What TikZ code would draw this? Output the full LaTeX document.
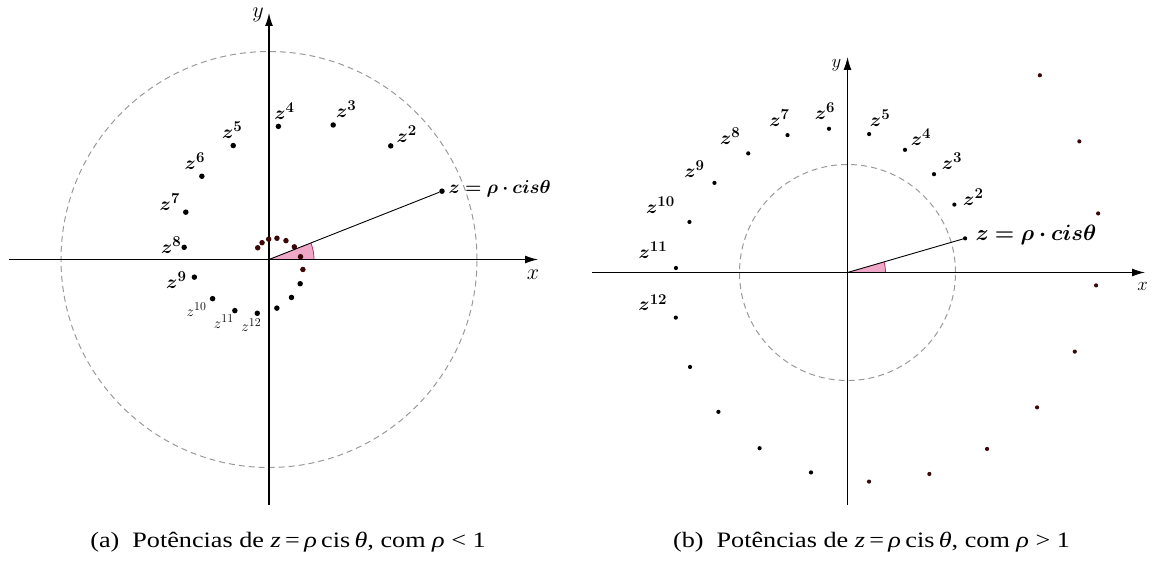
\RequirePackage{fix-cm}
\documentclass[tikz,border=0pt]{standalone}
\usepackage{amsmath,bm}
\usepackage[no-math]{fontspec}
\setmainfont{Liberation Serif}
\usetikzlibrary{arrows.meta}
\DeclareMathSizes{19}{19}{15}{11}
\DeclareMathSizes{15}{15}{12}{9}
\definecolor{sectorpink}{HTML}{EFA8C8}
\definecolor{sectoredge}{HTML}{C8246E}
\definecolor{darkdot}{HTML}{3A0808}
\definecolor{guidegray}{HTML}{9A9A9A}
\begin{document}
\begin{tikzpicture}[x=1pt,y=-1pt,
  axisline/.style={line width=1.2pt,-{Latex[length=13pt,width=8pt]}},
  guide/.style={guidegray,line width=1pt,dash pattern=on 6pt off 4pt},
  zline/.style={line width=0.9pt},
  dotL/.style={circle,inner sep=0pt,minimum size=5.5pt},
  dotR/.style={circle,inner sep=0pt,minimum size=4.2pt},
  lblA/.style={inner sep=0pt,font=\fontsize{19}{21}\selectfont},
  lblS/.style={inner sep=0pt,font=\fontsize{15}{17}\selectfont},
  mainL/.style={inner sep=0pt,anchor=west,font=\fontsize{18.75}{21}\selectfont},
  mainR/.style={inner sep=0pt,anchor=west,font=\fontsize{22.2}{25}\selectfont},
  axlblL/.style={inner sep=0pt,font=\fontsize{22.2}{25}\selectfont},
  axlblR/.style={inner sep=0pt,font=\fontsize{18.7}{21}\selectfont},
  captxt/.style={inner sep=0pt,anchor=base,font=\fontsize{22}{26}\selectfont}]
\useasboundingbox (0,0) rectangle (1152,561);

% ================= LEFT PANEL =================
\coordinate (OL) at (269,259.5);
\coordinate (LxS) at (9,259.5);
\coordinate (LxE) at (538,259.5);
\coordinate (LyS) at (269,505);
\coordinate (LyE) at (269,13);
\draw[guide] (OL) circle[radius=208pt];
\fill[sectorpink] (OL) -- plot[domain=0:21.5,samples=20] ({269+45*cos(\x)},{259.5-45*sin(\x)}) -- cycle;
\draw[sectoredge,line width=0.8pt] plot[domain=0:21.5,samples=20] ({269+45*cos(\x)},{259.5-45*sin(\x)});
\draw[axisline] (LxS) -- (LxE);
\draw[axisline] (LyS) -- (LyE);
\node[axlblL] (Lx) at (533,275) {$x$};
\node[axlblL] (Ly) at (258,15) {$y$};
\foreach \n in {1,...,23}{
  \pgfmathsetmacro\rr{186*0.8952^(\n-1)}
  \pgfmathsetmacro\aa{21.55+(\n-1)*21.47}
  \ifnum\n>15 \def\dc{darkdot}\else\def\dc{black}\fi
  \node[dotL,fill=\dc] (L\n) at ({269+\rr*cos(\aa)},{259.5-\rr*sin(\aa)}) {};
}
\draw[zline] (OL) -- (L1);
\node[mainL] (Lz) at ([xshift=3.5pt,yshift=2pt]L1.east) {$\bm{z=\rho\cdot cis\theta}$};
\foreach \n/\dx/\dy in {2/16/12,3/13/16,4/6/15,5/-1/15,6/-7/15,7/-16/10,8/-13/2,9/-18/-3}{
  \node[lblA] (Lz\n) at ([xshift=\dx pt,yshift=\dy pt]L\n) {$\bm{z^{\n}}$};
}
\foreach \n/\dx/\dy in {10/-16/-11,11/-11/-11,12/-6/-12}{
  \node[lblS] (Lz\n) at ([xshift=\dx pt,yshift=\dy pt]L\n) {$z^{\n}$};
}

% ================= RIGHT PANEL =================
\coordinate (OR) at (847.5,272.5);
\coordinate (RxS) at (592,272.5);
\coordinate (RxE) at (1145,272.5);
\coordinate (RyS) at (847.5,505);
\coordinate (RyE) at (847.5,57);
\draw[guide] (OR) circle[radius=108pt];
\fill[sectorpink] (OR) -- plot[domain=0:16.2,samples=20] ({847.5+38*cos(\x)},{272.5-38*sin(\x)}) -- cycle;
\draw[sectoredge,line width=0.8pt] plot[domain=0:16.2,samples=20] ({847.5+38*cos(\x)},{272.5-38*sin(\x)});
\draw[axisline] (RxS) -- (RxE);
\draw[axisline] (RyS) -- (RyE);
\node[axlblR] (Rx) at (1142.5,286) {$x$};
\node[axlblR] (Ry) at (836.5,65) {$y$};
\foreach \n in {1,...,25}{
  \pgfmathsetmacro\rr{122.4*1.0344^(\n-1)}
  \pgfmathsetmacro\aa{16.2+(\n-1)*16.23}
  \ifnum\n>16 \def\dc{darkdot}\else\def\dc{black}\fi
  \node[dotR,fill=\dc] (R\n) at ({847.5+\rr*cos(\aa)},{272.5-\rr*sin(\aa)}) {};
}
\draw[zline] (OR) -- (R1);
\node[mainR] (Rz) at ([xshift=8pt,yshift=3pt]R1.east) {$\bm{z=\rho\cdot cis\theta}$};
\foreach \n/\dx/\dy in {2/19/7,3/18/13,4/16/13,5/11/16,6/-4/18,7/-8/17,8/-18/17,9/-20/14,10/-29/17,11/-23/18,12/-23/15}{
  \node[lblA] (Rz\n) at ([xshift=\dx pt,yshift=\dy pt]R\n) {$\bm{z^{\n}}$};
}

% ================= CAPTIONS =================
\node[captxt] (capA) at (288,547.5) {\scalebox{1.19}[1]{(a)\hspace{0.5em}Potências de \textit{z}\,=\,\textit{ρ}\,cis\,\textit{θ}, com \textit{ρ} < 1}};
\node[captxt] (capB) at (871.5,547.5) {\scalebox{1.19}[1]{(b)\hspace{0.5em}Potências de \textit{z}\,=\,\textit{ρ}\,cis\,\textit{θ}, com \textit{ρ} > 1}};
\end{tikzpicture}
\end{document}
